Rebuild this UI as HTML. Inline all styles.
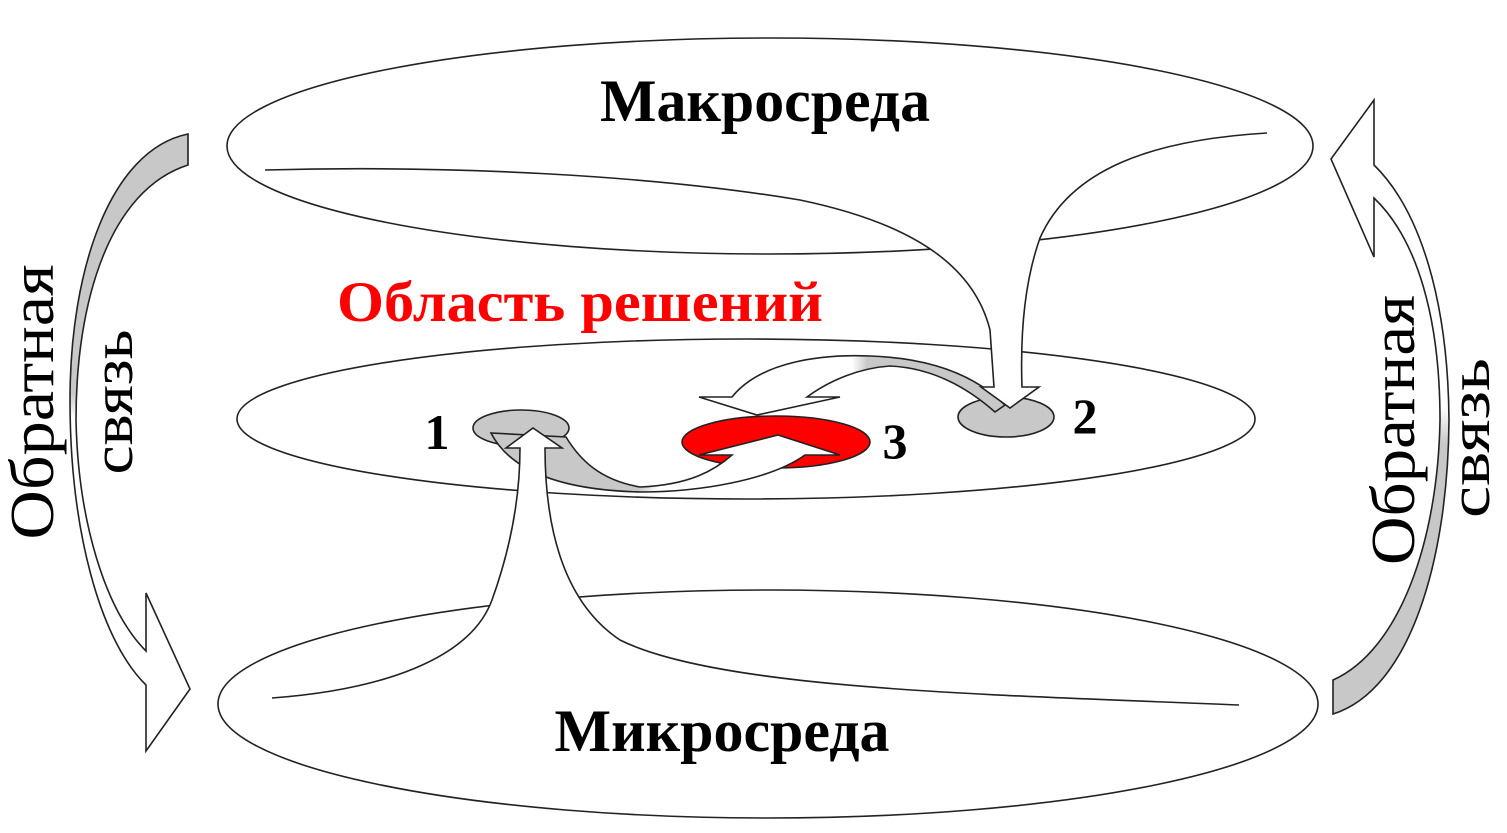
<!DOCTYPE html>
<html><head><meta charset="utf-8"><style>
html,body{margin:0;padding:0;background:#fff;}
svg{display:block;}
text{font-family:"Liberation Serif",serif;}
</style></head><body>
<svg width="1507" height="833" viewBox="0 0 1507 833" xmlns="http://www.w3.org/2000/svg">
<defs>
<linearGradient id="gl" x1="0" y1="0" x2="0" y2="1">
<stop offset="0" stop-color="#c8c8c8"/><stop offset="0.42" stop-color="#c8c8c8"/><stop offset="0.46" stop-color="#fff"/><stop offset="1" stop-color="#fff"/></linearGradient>
<linearGradient id="gr" x1="0" y1="0" x2="0" y2="1">
<stop offset="0" stop-color="#fff"/><stop offset="0.5" stop-color="#fff"/><stop offset="0.56" stop-color="#c8c8c8"/><stop offset="1" stop-color="#c8c8c8"/></linearGradient>
<linearGradient id="ga" x1="0" y1="0" x2="1" y2="0">
<stop offset="0" stop-color="#fff"/><stop offset="0.5" stop-color="#fff"/><stop offset="0.55" stop-color="#c8c8c8"/><stop offset="1" stop-color="#c8c8c8"/></linearGradient>
<linearGradient id="gb" x1="0" y1="0" x2="1" y2="0">
<stop offset="0" stop-color="#c8c8c8"/><stop offset="0.42" stop-color="#c8c8c8"/><stop offset="0.48" stop-color="#fff"/><stop offset="1" stop-color="#fff"/></linearGradient>
</defs>
<g stroke="#222" stroke-width="1.6">
<ellipse cx="770" cy="146" rx="543" ry="108" fill="#fff"/>
<ellipse cx="746" cy="419" rx="509" ry="80" fill="#fff"/>
<ellipse cx="768" cy="704" rx="550" ry="114" fill="#fff"/>

<path d="M188,134 C110,150 70,270 70,400 C70,530 100,640 146,685 L146,751 L190,689 L146,593 L146,651 C105,610 78,520 76,420 C76,300 110,190 188,165 Z" fill="url(#gl)"/>
<path d="M1374,165 C1420,210 1448,300 1449,420 C1448,560 1410,690 1333,714 L1333,680 C1400,650 1438,540 1440,420 C1440,320 1418,240 1374,198 L1374,257 L1331,159 L1374,100 Z" fill="url(#gr)"/>

<ellipse cx="521" cy="428" rx="48" ry="18" fill="#c8c8c8"/>
<ellipse cx="1006" cy="417" rx="48" ry="20" fill="#c8c8c8"/>

<path d="M732,397 C760,362 820,354 870,356 C930,358 975,375 1005,405 L995,412 C970,390 935,368 890,366 C860,368 830,380 807,397 L840,397 L757,415 L699,397 Z" fill="url(#ga)"/>

<ellipse cx="776" cy="442" rx="94" ry="26" fill="#ff0000"/>

<path d="M491,433 C510,470 560,490 640,492 C700,492 770,480 805,455 L840,455 L778,435 L699,455 L732,455 C715,470 690,485 640,487 C600,480 580,460 566,437 Z" fill="url(#gb)"/>

<path d="M265,170 C450,165 650,175 800,200 C920,225 975,270 990,330 L994,387 L981,387 L1010,408 L1039,387 L1022,387 C1020,330 1025,280 1040,238 C1070,170 1150,140 1267,133" fill="#fff"/>

<path d="M272,698 C380,690 470,660 492,600 C510,550 520,500 520,448 L506,448 L533,428 L562,448 L545,448 C545,520 560,600 620,640 C720,690 1000,695 1239,705" fill="#fff"/>
</g>

<text x="765" y="121" font-size="60" font-weight="bold" text-anchor="middle" textLength="330" lengthAdjust="spacingAndGlyphs">Макросреда</text>
<text x="580" y="321" font-size="57" font-weight="bold" fill="#ff0000" text-anchor="middle" textLength="486" lengthAdjust="spacingAndGlyphs">Область решений</text>
<text x="722" y="751" font-size="60" font-weight="bold" text-anchor="middle" textLength="335" lengthAdjust="spacingAndGlyphs">Микросреда</text>
<text x="437" y="449" font-size="50" font-weight="bold" text-anchor="middle">1</text>
<text x="1085" y="433" font-size="50" font-weight="bold" text-anchor="middle">2</text>
<text x="895" y="458" font-size="50" font-weight="bold" text-anchor="middle">3</text>

<text transform="translate(53,402) rotate(-90)" font-size="62" text-anchor="middle" textLength="275" lengthAdjust="spacingAndGlyphs">Обратная</text>
<text transform="translate(132,402) rotate(-90)" font-size="58" text-anchor="middle" textLength="145" lengthAdjust="spacingAndGlyphs">связь</text>
<text transform="translate(1414,430) rotate(-90)" font-size="62" text-anchor="middle" textLength="270" lengthAdjust="spacingAndGlyphs">Обратная</text>
<text transform="translate(1489,438) rotate(-90)" font-size="58" text-anchor="middle" textLength="160" lengthAdjust="spacingAndGlyphs">связь</text>
</svg>
</body></html>
